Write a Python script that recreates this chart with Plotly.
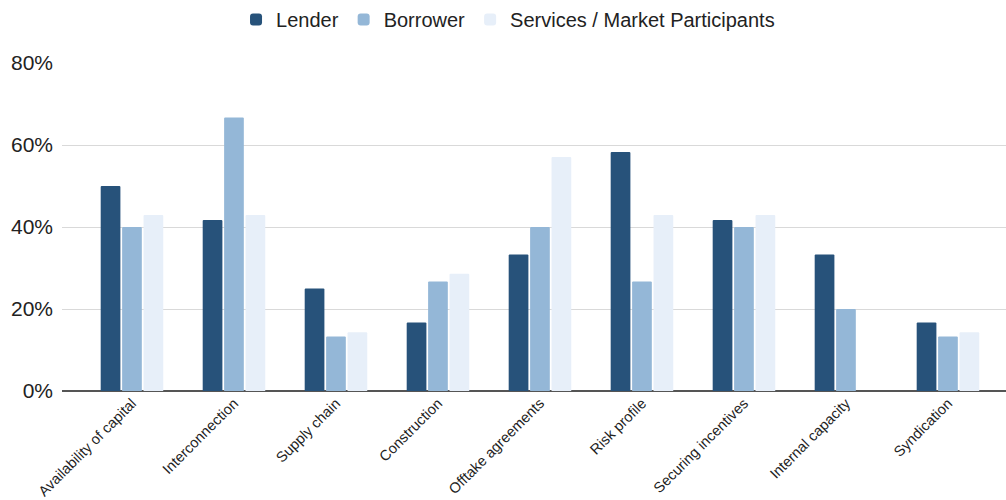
import plotly.graph_objects as go

categories = [
    "Availability of capital", "Interconnection", "Supply chain", "Construction",
    "Offtake agreements", "Risk profile", "Securing incentives",
    "Internal capacity", "Syndication",
]
lender = [0.500, 0.417, 0.250, 0.167, 0.333, 0.583, 0.417, 0.333, 0.167]
borrower = [0.400, 0.667, 0.133, 0.267, 0.400, 0.267, 0.400, 0.200, 0.133]
services = [0.429, 0.429, 0.143, 0.286, 0.571, 0.429, 0.429, 0.000, 0.143]

series_names = ["Lender", "Borrower", "Services / Market Participants"]
series_colors = ["#27527a", "#94b7d7", "#e7eff9"]
y_ticks = [0, 0.2, 0.4, 0.6, 0.8]
y_tick_text = ["0%", "20%", "40%", "60%", "80%"]

fig = go.Figure()
for name, vals, color in zip(series_names, [lender, borrower, services], series_colors):
    fig.add_trace(go.Bar(
        name=name, x=categories, y=vals,
        marker=dict(color=color, line=dict(width=0)),
    ))

font_family = "Liberation Sans, Arial, sans-serif"

fig.update_layout(
    width=1006, height=500,
    margin=dict(l=62, r=0, t=63, b=109),
    paper_bgcolor="white", plot_bgcolor="white",
    barmode="group", bargap=0.37, bargroupgap=0.08,
    barcornerradius=1.5,
    font=dict(family=font_family, color="#222222"),
    legend=dict(
        orientation="h", xref="container", yref="container",
        x=0.505, xanchor="center", y=1.0, yanchor="top",
        font=dict(size=20, color="#222222"),
        itemwidth=30, traceorder="normal",
    ),
    xaxis=dict(
        type="category", range=[-0.686, 8.569],
        tickangle=-45, tickfont=dict(size=14.6, color="#222222"),
        showgrid=False, showline=False, ticks="",
    ),
    yaxis=dict(
        range=[0, 0.8], tickvals=y_ticks, ticktext=y_tick_text,
        tickfont=dict(size=21, color="#222222"),
        gridcolor="#d9d9d9", gridwidth=1,
        zeroline=True, zerolinecolor="#555555", zerolinewidth=1.5,
        showline=False, ticks="", ticklabelstandoff=8,
    ),
)

fig.write_html("out.html")
